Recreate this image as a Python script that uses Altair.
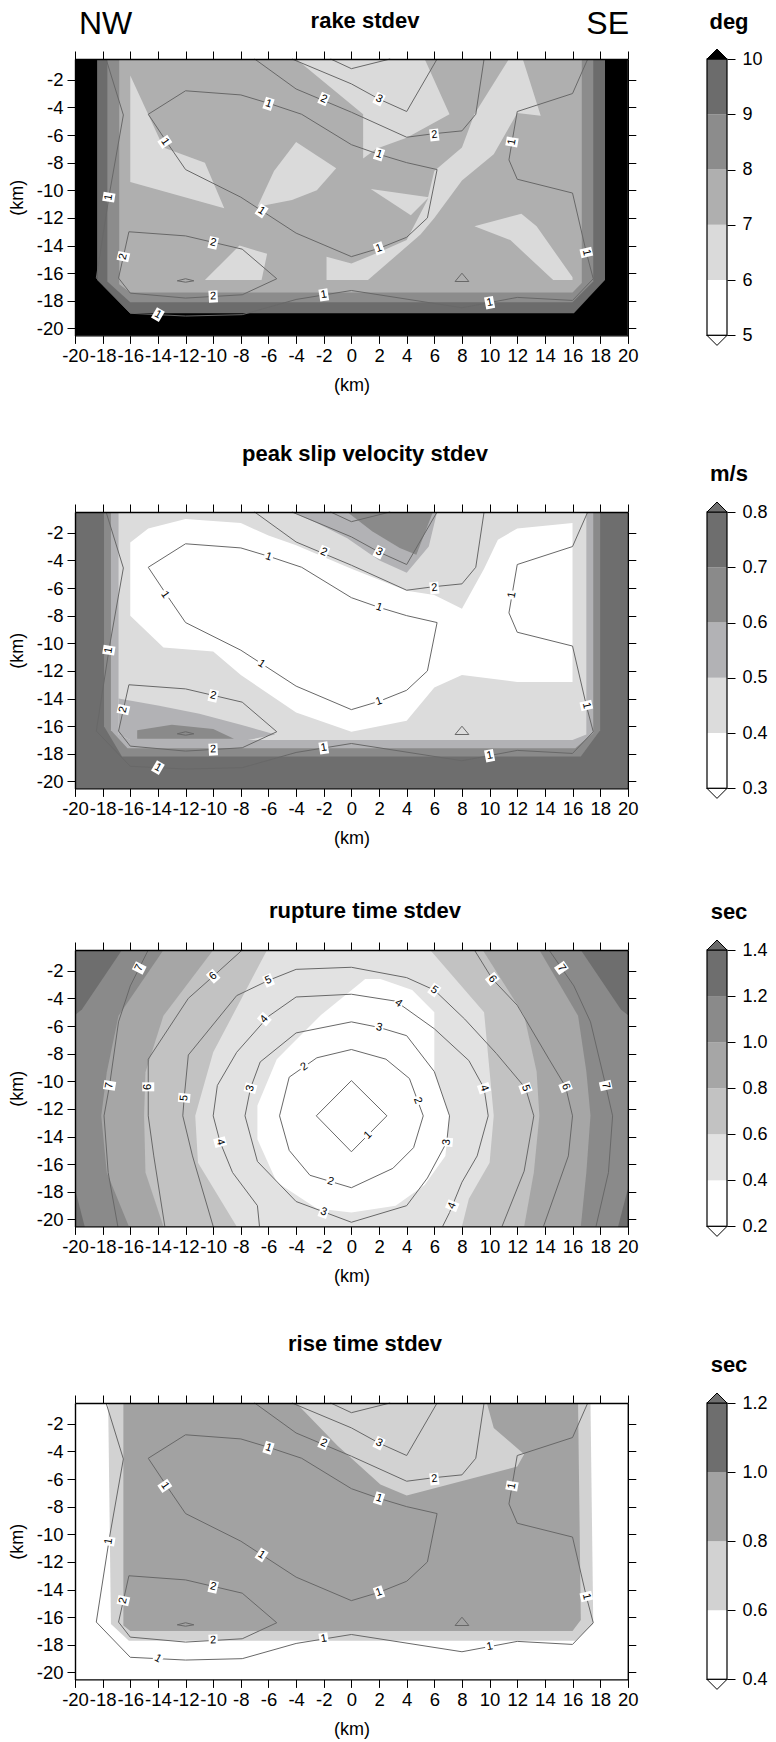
import altair as alt

# ---------------- layout constants ----------------
W, H = 776, 1742
K = 13.82                      # pixels per km
X0 = 75.0
X1 = X0 + 40 * K
PH = 20 * K
TOPS = [59.0, 512.0, 950.0, 1403.0]
FONT = "Liberation Sans"
LINE_GRAY = "#686868"
CB_X0, CB_X1 = 707, 727

# ---------------- text ----------------
TITLES = ["rake stdev", "peak slip velocity stdev", "rupture time stdev", "rise time stdev"]
UNITS = ["deg", "m/s", "sec", "sec"]
TITLE_BASE = [27.5, 461.0, 917.5, 1350.5]
UNIT_BASE = [28.5, 480.5, 918.5, 1371.5]

X_TICKS = list(range(-20, 21, 2))
Y_TICKS = list(range(-2, -21, -2))

# ---------------- colour bars ----------------
CB_TICKS = [
    [5, 6, 7, 8, 9, 10],
    [0.3, 0.4, 0.5, 0.6, 0.7, 0.8],
    [0.2, 0.4, 0.6, 0.8, 1.0, 1.2, 1.4],
    [0.4, 0.6, 0.8, 1.0, 1.2],
]
CB_FORMAT = ["d", ".1f", ".1f", ".1f"]
COLORS = [
    ["#ffffff", "#ffffff", "#dadada", "#afafaf", "#8c8c8c", "#6c6c6c", "#000000"],
    ["#ffffff", "#ffffff", "#dcdcdc", "#b2b2b5", "#8a8a8a", "#6e6e6e", "#6e6e6e"],
    ["#ffffff", "#ffffff", "#e2e2e2", "#c2c2c2", "#a6a6a6", "#8a8a8a", "#6e6e6e", "#6a6a6a"],
    ["#ffffff", "#ffffff", "#d2d2d2", "#a2a2a2", "#6e6e6e", "#6e6e6e"],
]
OVER_COLOR = ["#000000", "#707070", "#6a6a6a", "#707070"]

# ---------------- filled regions (value, polygon in km) ----------------
PLOT_RECT = [(-20, -0.5), (20, -0.5), (20, -20.5), (-20, -20.5)]

RAKE_POLYS = [
    (10.5, PLOT_RECT),
    (9.5, [(-18.4, -0.5), (18.35, -0.5), (18.35, -16.5), (16.1, -18.9), (-16.0, -18.9), (-18.4, -16.5)]),
    (8.5, [(-17.66, -0.5), (17.5, -0.5), (17.5, -16.6), (16.0, -18.1), (-16.0, -18.1), (-17.66, -16.6)]),
    (7.5, [(-16.8, -0.5), (16.67, -0.5), (16.67, -16.7), (16.0, -17.4), (-16.0, -17.4), (-16.8, -16.8)]),
    (6.5, [(-16.0, -1.7), (-14.8, -4.3), (-13.6, -6.9), (-10.6, -8.0), (-9.2, -11.3), (-16.0, -9.4)]),
    (6.5, [(-4.0, -6.5), (-1.1, -8.4), (-2.5, -10.0), (-4.3, -10.7), (-6.8, -11.2), (-5.6, -8.6)]),
    (6.5, [(-4.0, -0.5), (5.3, -0.5), (7.1, -4.5), (4.0, -6.2), (1.8, -7.0), (0.85, -7.7), (0.85, -4.5)]),
    (6.5, [(11.4, -0.5), (12.4, -0.5), (13.7, -4.6), (12.0, -4.4), (10.3, -7.4), (8.0, -9.3), (6.0, -12.0),
           (5.0, -13.2), (1.2, -16.5), (-1.8, -16.5), (-1.8, -14.8), (0.0, -15.3), (2.2, -14.4), (4.0, -13.6),
           (5.5, -10.7), (6.0, -8.6), (8.0, -6.9), (8.9, -4.5)]),
    (6.5, [(1.4, -9.9), (4.3, -11.8), (5.6, -10.5)]),
    (6.5, [(-10.6, -16.5), (-8.1, -14.0), (-6.1, -14.6), (-6.5, -16.5)]),
    (6.5, [(8.9, -12.6), (12.3, -11.7), (13.4, -12.6), (16.0, -16.3), (16.0, -16.5), (14.6, -16.5), (11.5, -13.6)]),
]

PSV_POLYS = [
    (0.75, PLOT_RECT),
    (0.65, [(-17.9, -0.5), (18.0, -0.5), (18.0, -16.3), (16.6, -18.2), (-16.6, -18.2), (-17.9, -16.0)]),
    (0.55, [(-17.4, -0.5), (17.5, -0.5), (17.5, -16.5), (16.2, -17.6), (-16.2, -17.6), (-17.4, -16.3)]),
    (0.45, [(-16.85, -0.5), (17.0, -0.5), (17.0, -16.6), (16.0, -17.0), (-16.0, -17.0), (-16.85, -16.6)]),
    (0.55, [(-4.3, -0.5), (6.2, -0.5), (5.6, -3.0), (4.0, -4.9), (2.0, -4.0), (-0.3, -2.4), (-2.5, -1.3)]),
    (0.65, [(-0.3, -0.5), (5.9, -0.5), (4.7, -3.6), (3.5, -3.1), (1.5, -1.9)]),
    (0.55, [(-16.85, -14.0), (-14.0, -14.5), (-11.0, -15.1), (-8.0, -15.9), (-5.5, -16.6), (-7.5, -17.0),
            (-16.0, -17.0), (-16.85, -16.6)]),
    (0.65, [(-15.5, -16.3), (-13.0, -15.9), (-10.0, -16.2), (-8.5, -16.9), (-15.5, -16.9)]),
    (0.35, [(-16.0, -2.7), (-14.7, -1.7), (-12.0, -1.0), (-8.0, -1.3), (-6.0, -2.2), (-4.0, -2.9), (0.0, -4.6),
            (4.0, -6.2), (6.0, -6.5), (8.0, -7.5), (9.6, -4.6), (10.6, -2.5), (12.0, -1.7), (16.0, -1.3),
            (16.0, -12.8), (12.0, -12.8), (8.0, -12.3), (6.0, -13.2), (4.0, -15.6), (0.0, -16.4), (-4.0, -15.0),
            (-8.0, -12.3), (-10.0, -10.6), (-13.6, -10.3), (-16.0, -8.0)]),
]

RUP_POLYS = [
    (1.1, PLOT_RECT),
    (1.3, [(-20, -0.5), (-16.6, -0.5), (-19.5, -4.8), (-20, -5.2)]),
    (1.3, [(16.6, -0.5), (20, -0.5), (20, -5.2), (19.5, -4.8)]),
    (1.3, [(-20, -17.8), (-19.3, -20.5), (-20, -20.5)]),
    (1.3, [(19.3, -20.5), (20, -20.5), (20, -17.8)]),
    (0.9, [(-13.6, -0.5), (13.6, -0.5), (16.4, -5.25), (17.0, -9.3), (17.3, -12.5), (17.0, -16.6), (16.6, -20.5),
           (-16.1, -20.5), (-17.7, -16.6), (-18.1, -12.5), (-17.7, -9.35), (-16.85, -5.25)]),
    (0.7, [(-10.0, -0.5), (9.5, -0.5), (12.5, -5.25), (13.4, -9.3), (13.6, -12.5), (13.2, -16.6), (12.5, -20.5),
           (-13.6, -20.5), (-14.9, -16.6), (-15.0, -12.5), (-14.9, -9.35), (-13.6, -5.25)]),
    (0.5, [(-6.1, -0.5), (5.7, -0.5), (9.6, -5.0), (10.3, -12.5), (10.0, -15.9), (8.5, -18.5), (8.0, -20.5),
           (-8.3, -20.5), (-11.1, -15.9), (-11.3, -12.5), (-10.0, -7.9)]),
    (0.3, [(1.0, -2.6), (2.1, -2.6), (4.4, -3.4), (6.0, -5.0), (6.0, -9.3), (7.1, -12.5), (6.8, -15.4), (5.3, -17.5),
           (3.2, -19.0), (0.0, -19.5), (-2.5, -19.2), (-5.4, -17.3), (-6.8, -14.2), (-6.8, -11.75), (-5.4, -8.4),
           (-2.2, -5.2)]),
]

RISE_POLYS = [
    (0.5, PLOT_RECT),
    (0.7, [(-17.6, -0.5), (17.3, -0.5), (17.5, -16.5), (16.2, -17.7), (-16.1, -17.7), (-17.4, -16.5)]),
    (0.9, [(-16.5, -0.5), (-4.0, -0.5), (-1.0, -3.6), (2.1, -6.4), (4.0, -7.2), (12.0, -5.1), (12.5, -4.2),
           (10.3, -2.3), (9.8, -0.5), (16.4, -0.5), (16.6, -16.2), (16.0, -17.0), (-16.0, -17.0), (-16.5, -16.6)]),
]

# ---------------- contour lines (km) ----------------
SLIP_LINES = [
    [(-14.7, -4.5), (-12, -2.8), (-8, -3.1), (-6, -3.7), (-3.6, -4.5), (0, -6.7), (2, -7.4), (4, -8.0), (6.2, -8.5),
     (5.5, -12.0), (4, -13.4), (2, -14.2), (0, -14.8), (-4, -13.1), (-8, -10.5), (-12, -8.5), (-13.3, -6.6),
     (-14.7, -4.5)],
    [(-7, -0.5), (-4, -2.67), (0, -4.35), (4, -6.16), (6, -5.9), (8, -5.7), (9, -4.5), (9.6, -0.5)],
    [(-4.3, -0.5), (0, -2.3), (2, -3.4), (4, -4.3), (6.2, -0.5)],
    [(-1.5, -0.5), (0, -1.2), (2.8, -0.5)],
    [(-17.75, -0.5), (-16.5, -4.55), (-17.5, -10.2), (-18.46, -16.35), (-16, -18.9), (-12, -19.1), (-7.9, -19.0),
     (-4, -17.9), (0, -17.25), (8, -18.5), (12, -17.75), (16, -17.97), (17.5, -16.4), (17, -14.5), (16, -10.2),
     (12, -9.2), (11.4, -7.8), (12, -4.3), (16, -3.0), (17.1, -0.5)],
    [(-16.1, -13.0), (-12, -13.3), (-7.9, -14.26), (-5.4, -16.4), (-7.9, -17.56), (-12, -17.8), (-16, -17.44),
     (-16.85, -16.35), (-16.5, -14.8), (-16.1, -13.0)],
    [(7.5, -16.6), (8, -16.0), (8.5, -16.6), (7.5, -16.6)],
    [(-12.6, -16.55), (-12, -16.4), (-11.4, -16.55), (-12, -16.65), (-12.6, -16.55)],
]
SLIP_LABELS = [
    ("1", -6, -3.75, 18), ("2", -2, -3.4, 23), ("3", 2, -3.4, 27), ("2", 6, -6.0, 353), ("1", 2, -7.4, 18),
    ("1", -13.5, -6.5, 56), ("1", -17.55, -10.5, 279), ("1", -6.5, -11.5, 33), ("2", -10, -13.8, 13),
    ("1", 2, -14.2, 341), ("2", -16.5, -14.8, 283), ("1", 11.62, -6.5, 280), ("1", 17, -14.5, 77),
    ("2", -10, -17.68, 357), ("1", -2, -17.57, 351), ("1", 10, -18.13, 349), ("1", -14, -19.0, 30),
]

RUP_LINES = [
    [(0, -9.95), (2.57, -12.5), (0, -15.1), (-2.54, -12.5), (0, -9.95)],
    [(0, -7.7), (2.5, -8.4), (4.2, -9.8), (5.2, -12.5), (4.5, -14.8), (3, -16.3), (0, -17.7), (-3, -16.8),
     (-4.5, -15.0), (-5.2, -12.5), (-4.5, -9.7), (-2.5, -8.3), (0, -7.7)],
    [(0, -5.7), (2, -6.1), (4, -6.7), (6, -9.3), (7.1, -12.5), (6.9, -14.4), (5.5, -17), (4, -19.0), (0, -20.2),
     (-4, -18.7), (-6.8, -15.8), (-7.7, -12.5), (-7.3, -10.5), (-6.6, -8.6), (-4, -6.5), (0, -5.7)],
    [(-6.65, -20.5), (-6.8, -19.0), (-8.6, -16.6), (-9.5, -14.4), (-10, -12.5), (-9.7, -10.3), (-8.3, -7.9),
     (-6, -5.3), (-4, -3.9), (0, -3.7), (3.2, -4.2), (6, -6.2), (8.5, -8.5), (9.6, -10.5), (9.9, -12.5),
     (9.1, -15.4), (8, -17.3), (7.1, -19.5), (6.6, -20.5)],
    [(-10, -20.5), (-11.5, -15.4), (-12.2, -12.5), (-12.1, -11.2), (-11.8, -8.1), (-8.3, -3.8), (-6, -2.7),
     (-4, -1.9), (0, -1.75), (4, -2.5), (6, -3.4), (8.2, -5.5), (10.5, -8.0), (12.6, -10.5), (13.2, -12.5),
     (12.5, -16.5), (10.9, -20.5)],
    [(-7.9, -0.5), (-10, -2.4), (-11.8, -4), (-14.7, -8.4), (-14.7, -12.5), (-14.3, -15.4), (-13.5, -20.5)],
    [(8.9, -0.5), (10.2, -2.6), (12, -4.5), (14.3, -8.4), (15.5, -10.4), (16, -12.5), (15.7, -15.4), (13.9, -20.5)],
    [(-14.7, -0.5), (-16, -3.1), (-16.85, -5.7), (-17.5, -10.3), (-17.9, -12.5), (-17.6, -16.6), (-16.9, -20.5)],
    [(14.3, -0.5), (16.1, -3.1), (17.3, -5.7), (18.4, -10.3), (18.9, -12.5), (18.6, -16.6), (17.7, -20.5)],
]
RUP_LABELS = [
    ("7", -15.35, -1.8, 297), ("6", -10, -2.4, 318), ("5", -6, -2.7, 337), ("4", -6.3, -5.5, 311),
    ("4", 3.4, -4.35, 35), ("3", 2, -6.1, 13), ("5", 6, -3.4, 36), ("6", 10.2, -2.6, 52), ("7", 15.2, -1.8, 55),
    ("2", -3.4, -8.95, 325), ("3", -7.3, -10.5, 285), ("2", 4.8, -11.4, 70), ("1", 1.2, -13.9, 315),
    ("4", -9.5, -14.4, 75), ("3", 6.9, -14.4, 275), ("2", -1.5, -17.25, 17), ("3", -2, -19.45, 20),
    ("4", 7.3, -19.0, 293), ("4", 9.6, -10.5, 71), ("5", 12.6, -10.5, 70), ("6", 15.5, -10.4, 68),
    ("7", 18.4, -10.3, 77), ("7", -17.5, -10.3, 279), ("6", -14.7, -10.4, 270), ("5", -12.1, -11.2, 275),
]

PANELS = [
    (RAKE_POLYS, SLIP_LINES, SLIP_LABELS),
    (PSV_POLYS, SLIP_LINES, SLIP_LABELS),
    (RUP_POLYS, RUP_LINES, RUP_LABELS),
    (RISE_POLYS, SLIP_LINES, SLIP_LABELS),
]

BOX = "M-0.75,-1L0.75,-1L0.75,1L-0.75,1Z"
TRI_UP = "M-1,0L0,-1L1,0Z"
TRI_DOWN = "M-1,0L0,1L1,0Z"


def features(polys, dy):
    # dy: vertical shift (km) that stacks this panel below the first one in the shared projection
    out = []
    for v, ring in polys:
        pts = [[float(x), float(y) + dy] for x, y in ring]
        coords = pts + [pts[0]]
        out.append({"type": "Feature", "properties": {"v": v},
                    "geometry": {"type": "Polygon", "coordinates": [coords]}})
    return out


def line_rows(lines):
    return [{"id": k, "i": j, "x": x, "y": y} for k, ln in enumerate(lines) for j, (x, y) in enumerate(ln)]


def label_rows(labels):
    return [{"t": t, "x": x, "y": y, "a": a} for t, x, y, a in labels]


def common_axis(**kw):
    base = dict(tickSize=8, tickColor="black", tickWidth=1, domainColor="black", domainWidth=1.4,
                labelFont=FONT, labelFontSize=18.5, labelColor="black", labelOverlap=False, labelFlush=False,
                grid=False, zindex=2, titleFont=FONT, titleFontSize=18, titleFontWeight="normal",
                titleColor="black")
    base.update(kw)
    return alt.Axis(**base)


layers = []
one = alt.Data(values=[{"k": 0}])

for p, (polys, lines, labels) in enumerate(PANELS):
    T = TOPS[p]
    xs = alt.Scale(domain=[-20, 20], range=[X0, X1], nice=False, zero=False)
    ys = alt.Scale(domain=[-20.5, -0.5], range=[T + PH, T], nice=False, zero=False)
    thr = CB_TICKS[p]
    cscale = alt.Scale(type="threshold", domain=thr, range=COLORS[p])

    # filled contour regions (one shared projection; panels stacked by a km shift)
    dy = -(T - TOPS[0]) / K
    layers.append(
        alt.Chart(alt.Data(values=features(polys, dy)))
        .mark_geoshape(strokeOpacity=0)
        .encode(color=alt.Color("properties.v:Q", scale=cscale, legend=None))
        .project(type="identity", scale=K, translate=[X0 + 20 * K, TOPS[0] - 0.5 * K], reflectY=True)
    )

    # contour lines, carrying bottom + left axes
    bottom = common_axis(orient="bottom", offset=T + PH - H, values=X_TICKS, labelExpr="datum.value + ''",
                         labelPadding=3, title="(km)", titleX=(X0 + X1) / 2, titleY=50, titleBaseline="middle")
    left = common_axis(orient="left", offset=-X0, values=Y_TICKS, labelExpr="datum.value + ''",
                       labelPadding=4, title="(km)", titleX=17.5 - X0, titleY=T + PH / 2,
                       titleBaseline="middle", titleAngle=270)
    layers.append(
        alt.Chart(alt.Data(values=line_rows(lines)))
        .mark_line(color=LINE_GRAY, strokeWidth=1)
        .encode(x=alt.X("x:Q", scale=xs, axis=bottom), y=alt.Y("y:Q", scale=ys, axis=left),
                detail="id:N", order="i:Q")
    )

    # label boxes, carrying top + right tick axes
    top = common_axis(orient="top", offset=-T, values=X_TICKS, labels=False, title=None)
    right = common_axis(orient="right", offset=X1 - W, values=Y_TICKS, labels=False, title=None)
    lab = alt.Data(values=label_rows(labels))
    layers.append(
        alt.Chart(lab)
        .mark_point(shape=BOX, filled=True, fill="white", opacity=1, size=144, strokeWidth=0)
        .encode(x=alt.X("x:Q", scale=xs, axis=top), y=alt.Y("y:Q", scale=ys, axis=right),
                angle=alt.Angle("a:Q", scale=None))
    )
    layers.append(
        alt.Chart(lab)
        .mark_text(font=FONT, fontSize=11, color="black", baseline="middle", align="center")
        .encode(x=alt.X("x:Q", scale=xs, axis=None), y=alt.Y("y:Q", scale=ys, axis=None),
                text="t:N", angle=alt.Angle("a:Q", scale=None))
    )

    # colour bar
    lo, hi = thr[0], thr[-1]
    cbs = alt.Scale(domain=[lo, hi], range=[T + PH, T], nice=False, zero=False)
    bins = [{"lo": a, "hi": b, "v": (a + b) / 2} for a, b in zip(thr[:-1], thr[1:])]
    cb_axis = alt.Axis(orient="right", offset=CB_X1 - W, values=thr, format=CB_FORMAT[p], tickSize=8,
                       tickColor="black", tickWidth=1, domain=False, labelFont=FONT, labelFontSize=18,
                       labelColor="black", labelPadding=7, labelOverlap=False, labelFlush=False, grid=False,
                       title=None, zindex=2)
    layers.append(
        alt.Chart(alt.Data(values=bins)).mark_rect(strokeWidth=0)
        .encode(y=alt.Y("lo:Q", scale=cbs, axis=cb_axis), y2="hi:Q",
                x=alt.value(CB_X0), x2=alt.value(CB_X1),
                color=alt.Color("v:Q", scale=cscale, legend=None))
    )
    layers.append(
        alt.Chart(alt.Data(values=[{"lo": lo, "hi": hi}])).mark_rect(fillOpacity=0, stroke="black", strokeWidth=1.2)
        .encode(y=alt.Y("lo:Q", scale=cbs, axis=None), y2="hi:Q", x=alt.value(CB_X0), x2=alt.value(CB_X1))
    )
    layers.append(
        alt.Chart(alt.Data(values=[{"v": hi}]))
        .mark_point(shape=TRI_UP, filled=True, fill=OVER_COLOR[p], stroke="black", strokeWidth=1,
                    size=400, opacity=1)
        .encode(y=alt.Y("v:Q", scale=cbs, axis=None), x=alt.value((CB_X0 + CB_X1) / 2))
    )
    layers.append(
        alt.Chart(alt.Data(values=[{"v": lo}]))
        .mark_point(shape=TRI_DOWN, filled=True, fill="white", stroke="black", strokeWidth=1,
                    size=400, opacity=1)
        .encode(y=alt.Y("v:Q", scale=cbs, axis=None), x=alt.value((CB_X0 + CB_X1) / 2))
    )

    # titles and units
    layers.append(
        alt.Chart(one).mark_text(text=TITLES[p], font=FONT, fontSize=22, fontWeight="bold", align="center",
                                 baseline="alphabetic", color="black")
        .encode(x=alt.value(365), y=alt.value(TITLE_BASE[p]))
    )
    layers.append(
        alt.Chart(one).mark_text(text=UNITS[p], font=FONT, fontSize=22, fontWeight="bold", align="center",
                                 baseline="alphabetic", color="black")
        .encode(x=alt.value(729), y=alt.value(UNIT_BASE[p]))
    )

layers.append(
    alt.Chart(one).mark_text(text="NW", font=FONT, fontSize=32, align="left", baseline="alphabetic",
                             color="black")
    .encode(x=alt.value(79), y=alt.value(33.5))
)
layers.append(
    alt.Chart(one).mark_text(text="SE", font=FONT, fontSize=32, align="right", baseline="alphabetic",
                             color="black")
    .encode(x=alt.value(629), y=alt.value(33.5))
)

chart = (
    alt.layer(*layers)
    .resolve_scale(x="independent", y="independent", color="independent")
    .resolve_axis(x="independent", y="independent")
    .properties(width=W, height=H, padding=0, autosize=alt.AutoSizeParams(type="none"))
    .configure_view(strokeWidth=0)
)

chart.save("out.html", embed_options={"renderer": "svg", "actions": False})
